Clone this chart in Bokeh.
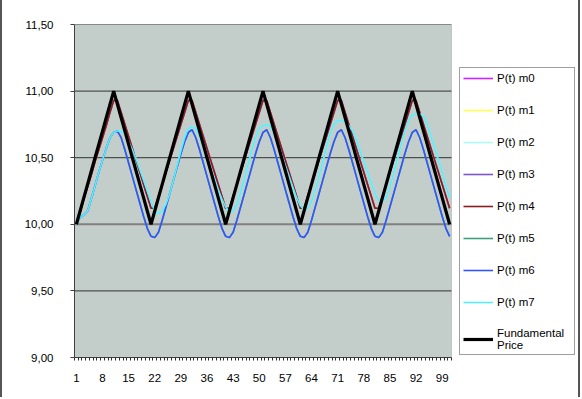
from bokeh.plotting import figure
from bokeh.models import (Range1d, FixedTicker, CustomJSTickFormatter, Legend,
                          LegendItem, BoxAnnotation)
from bokeh.embed import file_html
from bokeh.resources import INLINE

# ---- data ----
t = list(range(1, 102))

x_tick_labels = [1, 8, 15, 22, 29, 36, 43, 50, 57, 64, 71, 78, 85, 92, 99]
y_ticks = [9.0, 9.5, 10.0, 10.5, 11.0, 11.5]
grid_levels = [9.5, 10.5, 11.0, 11.5]
base_level = [10.0]

fundamental = [
    10.0, 10.1, 10.2, 10.3, 10.4, 10.5, 10.6, 10.7, 10.8, 10.9, 11.0, 10.9, 10.8, 10.7, 10.6, 10.5, 10.4, 10.3, 10.2, 10.1,
    10.0, 10.1, 10.2, 10.3, 10.4, 10.5, 10.6, 10.7, 10.8, 10.9, 11.0, 10.9, 10.8, 10.7, 10.6, 10.5, 10.4, 10.3, 10.2, 10.1,
    10.0, 10.1, 10.2, 10.3, 10.4, 10.5, 10.6, 10.7, 10.8, 10.9, 11.0, 10.9, 10.8, 10.7, 10.6, 10.5, 10.4, 10.3, 10.2, 10.1,
    10.0, 10.1, 10.2, 10.3, 10.4, 10.5, 10.6, 10.7, 10.8, 10.9, 11.0, 10.9, 10.8, 10.7, 10.6, 10.5, 10.4, 10.3, 10.2, 10.1,
    10.0, 10.1, 10.2, 10.3, 10.4, 10.5, 10.6, 10.7, 10.8, 10.9, 11.0, 10.9, 10.8, 10.7, 10.6, 10.5, 10.4, 10.3, 10.2, 10.1,
    10.0,
]

m4 = [
    10.00, 10.09, 10.19, 10.28, 10.37, 10.47, 10.56, 10.65, 10.74, 10.84, 10.93, 10.93, 10.84, 10.75, 10.66, 10.57, 10.48, 10.39, 10.30, 10.21,
    10.12, 10.12, 10.21, 10.30, 10.39, 10.48, 10.57, 10.66, 10.75, 10.84, 10.93, 10.93, 10.84, 10.75, 10.66, 10.57, 10.48, 10.39, 10.30, 10.21,
    10.12, 10.12, 10.21, 10.30, 10.39, 10.48, 10.57, 10.66, 10.75, 10.84, 10.93, 10.93, 10.84, 10.75, 10.66, 10.57, 10.48, 10.39, 10.30, 10.21,
    10.12, 10.12, 10.21, 10.30, 10.39, 10.48, 10.57, 10.66, 10.75, 10.84, 10.93, 10.93, 10.84, 10.75, 10.66, 10.57, 10.48, 10.39, 10.30, 10.21,
    10.12, 10.12, 10.21, 10.30, 10.39, 10.48, 10.57, 10.66, 10.75, 10.84, 10.93, 10.93, 10.84, 10.75, 10.66, 10.57, 10.48, 10.39, 10.30, 10.21,
    10.12,
]

m6 = [
    10.00, 10.05, 10.07, 10.10, 10.19, 10.29, 10.39, 10.48, 10.57, 10.65, 10.69, 10.70, 10.65, 10.56, 10.46, 10.36, 10.26, 10.16, 10.06, 9.97,
    9.91, 9.90, 9.94, 10.03, 10.13, 10.23, 10.33, 10.43, 10.53, 10.62, 10.69, 10.71, 10.65, 10.56, 10.46, 10.36, 10.26, 10.16, 10.06, 9.97,
    9.91, 9.90, 9.94, 10.03, 10.13, 10.23, 10.33, 10.43, 10.53, 10.62, 10.69, 10.71, 10.65, 10.56, 10.46, 10.36, 10.26, 10.16, 10.06, 9.97,
    9.91, 9.90, 9.94, 10.03, 10.13, 10.23, 10.33, 10.43, 10.53, 10.62, 10.69, 10.71, 10.65, 10.56, 10.46, 10.36, 10.26, 10.16, 10.06, 9.97,
    9.91, 9.90, 9.94, 10.03, 10.13, 10.23, 10.33, 10.43, 10.53, 10.62, 10.69, 10.71, 10.65, 10.56, 10.46, 10.36, 10.26, 10.16, 10.06, 9.97,
    9.91,
]

m7 = [
    10.00, 10.05, 10.07, 10.10, 10.19, 10.29, 10.39, 10.48, 10.57, 10.65, 10.69, 10.70, 10.70, 10.68, 10.62, 10.56, 10.49, 10.41, 10.33, 10.25,
    10.17, 10.10, 10.08, 10.10, 10.15, 10.23, 10.33, 10.44, 10.55, 10.65, 10.72, 10.73, 10.72, 10.66, 10.58, 10.50, 10.42, 10.34, 10.26, 10.19,
    10.13, 10.09, 10.10, 10.15, 10.24, 10.34, 10.45, 10.56, 10.65, 10.72, 10.74, 10.75, 10.74, 10.68, 10.60, 10.52, 10.44, 10.36, 10.28, 10.20,
    10.14, 10.11, 10.12, 10.17, 10.26, 10.36, 10.47, 10.58, 10.68, 10.75, 10.78, 10.78, 10.77, 10.74, 10.70, 10.63, 10.55, 10.47, 10.39, 10.31,
    10.23, 10.18, 10.17, 10.20, 10.28, 10.38, 10.49, 10.60, 10.70, 10.78, 10.82, 10.83, 10.83, 10.81, 10.75, 10.66, 10.57, 10.48, 10.39, 10.29,
    10.20,
]

# series hidden under others in the original chart
m0 = list(m4)
m1 = list(m4)
m2 = list(m7)
m3 = list(m4)
m5 = list(m6)

series_names = ["P(t) m0", "P(t) m1", "P(t) m2", "P(t) m3", "P(t) m4",
                "P(t) m5", "P(t) m6", "P(t) m7", "Fundamental\nPrice"]
series_values = [m0, m1, m2, m3, m4, m5, m6, m7, fundamental]
series_colors = ["#CC22FF", "#FFFF55", "#A8FFEE", "#7F55D0", "#8B1E1E",
                 "#3FA07F", "#3355FF", "#55EEFF", "#000000"]
series_widths = [1.6, 1.6, 1.6, 1.6, 1.6, 1.6, 1.6, 1.6, 3.2]

FONT = "Liberation Sans"

# category band: points sit in the middle of each category slot
x_lo, x_hi = 0.5, 101.5
y_lo, y_hi = 9.0, 11.5
# the frame is widened to the right so that the legend fits inside it
frame_w_plot = 374.0
frame_w_total = 500.0
x_view_hi = x_lo + (x_hi - x_lo) * frame_w_total / frame_w_plot

p = figure(width=580, height=397, output_backend="svg", toolbar_location=None,
           x_range=Range1d(x_lo, x_view_hi), y_range=Range1d(y_lo, y_hi),
           min_border_left=72, min_border_right=4,
           min_border_top=24, min_border_bottom=40)
p.styles = {"border-left": "2px solid #555555", "border-right": "2px solid #555555"}
p.background_fill_color = "white"
p.border_fill_color = "white"
p.outline_line_color = None
p.xgrid.visible = False
p.ygrid.visible = False

# plot area
p.add_layout(BoxAnnotation(left=x_lo, right=x_hi, bottom=y_lo, top=y_hi,
                           fill_color="#C3CDCA", fill_alpha=1.0,
                           line_color="#7F7F7F", line_width=1,
                           level="underlay"))

# axes
p.xaxis.bounds = (x_lo, x_hi)
p.xaxis.ticker = FixedTicker(ticks=x_tick_labels,
                             minor_ticks=[i + 0.5 for i in range(0, 102)])
p.xaxis.major_tick_line_color = None
p.xaxis.major_tick_out = 0
p.xaxis.major_tick_in = 0
p.xaxis.minor_tick_out = 3
p.xaxis.minor_tick_in = 0
p.xaxis.minor_tick_line_color = "#303030"
p.xaxis.axis_line_color = "#404040"
p.xaxis.major_label_standoff = 13
p.xaxis.major_label_text_font = FONT
p.xaxis.major_label_text_font_size = "11.5px"
p.xaxis.major_label_text_color = "#000000"

p.yaxis.ticker = FixedTicker(ticks=y_ticks)
p.yaxis.formatter = CustomJSTickFormatter(code="return tick.toFixed(2).replace('.', ',');")
p.yaxis.major_tick_out = 4
p.yaxis.major_tick_in = 0
p.yaxis.major_tick_line_color = "#404040"
p.yaxis.minor_tick_line_color = None
p.yaxis.axis_line_color = "#404040"
p.yaxis.major_label_standoff = 17
p.yaxis.major_label_text_font = FONT
p.yaxis.major_label_text_font_size = "11.5px"
p.yaxis.major_label_text_color = "#000000"

# horizontal gridlines limited to the plot area
p.segment(x0=[x_lo] * len(grid_levels), x1=[x_hi] * len(grid_levels),
          y0=grid_levels, y1=grid_levels, line_color="#333333", line_width=1)
p.segment(x0=[x_lo], x1=[x_hi], y0=base_level, y1=base_level,
          line_color="#808080", line_width=2)

renderers = []
for vals, col, w in zip(series_values, series_colors, series_widths):
    r = p.line(t, vals, line_color=col, line_width=w)
    renderers.append(r)

items = [LegendItem(label=n, renderers=[r]) for n, r in zip(series_names, renderers)]
legend = Legend(items=items, location=(385, 2))
legend.margin = 0
legend.padding = 3
legend.spacing = 18
legend.glyph_width = 30
legend.glyph_height = 14
legend.label_height = 14
legend.label_width = 74
legend.label_standoff = 4
legend.border_line_color = "#404040"
legend.border_line_width = 1
legend.background_fill_color = "white"
legend.background_fill_alpha = 1.0
legend.label_text_font = FONT
legend.label_text_font_size = "11.5px"
legend.label_text_color = "#000000"
p.add_layout(legend, "center")

open("out.html", "w").write(file_html(p, INLINE))
